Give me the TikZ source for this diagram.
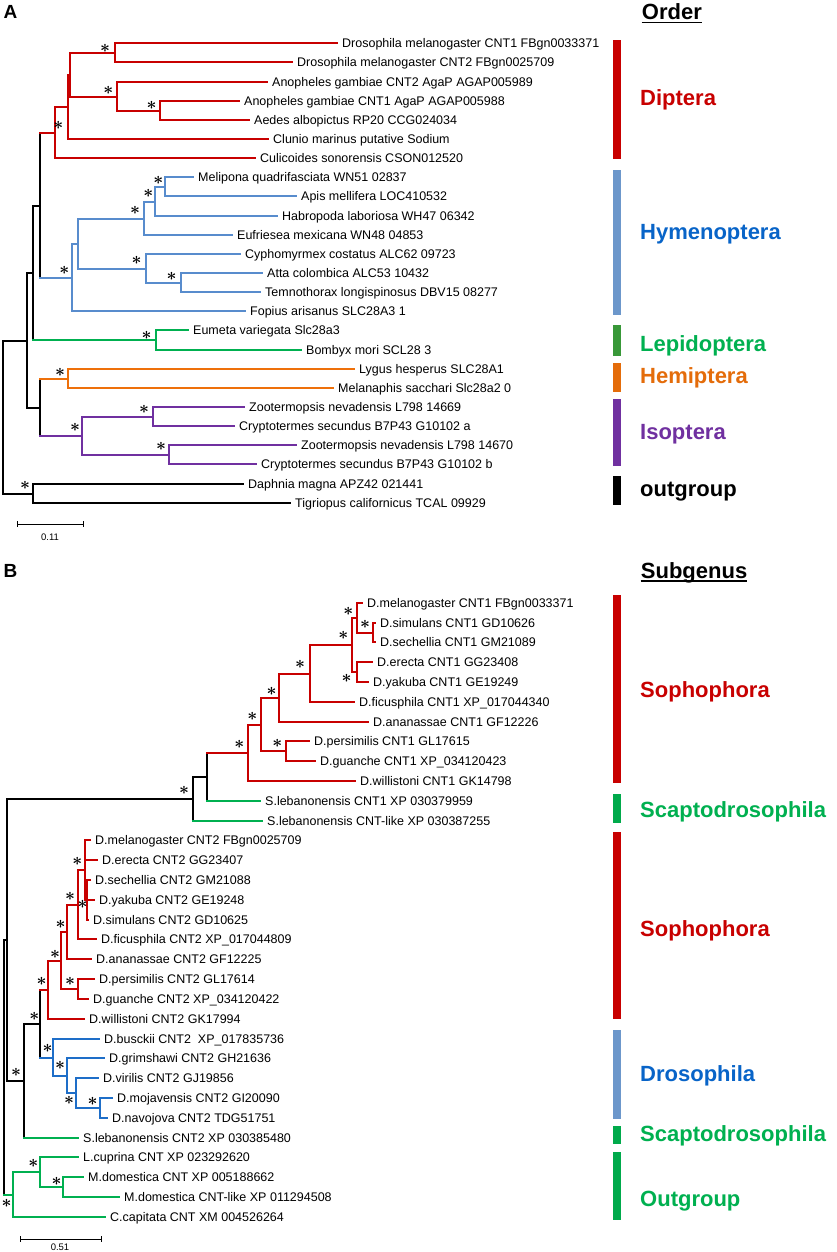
\documentclass[tikz,border=0pt]{standalone}
\usepackage{fontspec}
\setmainfont{Liberation Sans}
\usetikzlibrary{calc}
\definecolor{cRed}{RGB}{200,0,0}
\definecolor{cBlueA}{RGB}{88,140,205}
\definecolor{cBlueB}{RGB}{30,110,200}
\definecolor{cGreen}{RGB}{0,176,80}
\definecolor{cOrange}{RGB}{238,112,10}
\definecolor{cPurple}{RGB}{112,48,160}
\definecolor{barBlue}{RGB}{108,151,203}
\definecolor{barGreenA}{RGB}{56,152,56}
\definecolor{barGreen}{RGB}{0,170,75}
\definecolor{barOrange}{RGB}{228,108,10}
\definecolor{txtBlue}{RGB}{8,100,200}
\definecolor{txtRed}{RGB}{200,0,0}
\newcommand\leafA[4]{\coordinate (#1) at ({round(#3)},{round(43.3+19.14*#2)}); \node[lab] (#1-t) at ([xshift=5pt]#1) {#4};}
\newcommand\leafB[4]{\coordinate (#1) at ({round(#3)},{round(602.7+19.81*#2)}); \node[lab] (#1-t) at ([xshift=5pt]#1) {#4};}
\newcommand\inode[4]{\path let \p1=(#3), \p2=(#4) in coordinate (#1) at ({round(#2)*1pt},{round(0.5*\y1+0.5*\y2)*1pt});}
\newcommand\nd[6]{\draw[#1] (#2 |- #3) -- (#2 |- #5); \draw[#4] (#2 |- #3) -- (#3); \draw[#6] (#2 |- #5) -- (#5);}
\newcommand\hb[3]{\draw[#1] (#2 |- #3) -- (#3);}
\newcommand\st[3]{\node[stn] (#1) at (#2,#3) {$\ast$};}
\begin{document}
\begin{tikzpicture}[x=1pt,y=-1pt,line cap=rect,
  lab/.style={anchor=west,inner sep=0pt,text height=8.95pt,text depth=0pt,font=\fontsize{12.5}{15}\selectfont},
  stn/.style={inner sep=0pt,font=\fontsize{18}{18}\selectfont\boldmath},
  brR/.style={draw=cRed,line width=1.7pt},
  brBa/.style={draw=cBlueA,line width=1.7pt},
  brBb/.style={draw=cBlueB,line width=1.7pt},
  brG/.style={draw=cGreen,line width=1.7pt},
  brO/.style={draw=cOrange,line width=1.7pt},
  brP/.style={draw=cPurple,line width=1.7pt},
  brK/.style={draw=black,line width=1.7pt},
  grp/.style={anchor=base west,inner sep=0pt,font=\fontsize{22}{24}\selectfont\bfseries},
  hdr/.style={anchor=base west,inner sep=0pt,font=\fontsize{22}{24}\selectfont\bfseries},
  pan/.style={anchor=base west,inner sep=0pt,font=\fontsize{19}{20}\selectfont\bfseries},
  sbl/.style={inner sep=0pt,font=\fontsize{9.5}{10}\selectfont}]
\useasboundingbox (0,0) rectangle (837,1252);
\fill[white] (0,0) rectangle (837,1252);
% ---------------- Panel A ----------------
\node[pan] (pA) at (3.3,18.3) {A};
\node[hdr] (ordH) at (641.7,20) {Order};
\draw[line width=1.4pt,line cap=butt] ([yshift=-2.8pt]ordH.base west) -- ([yshift=-2.8pt]ordH.base east);
\leafA{a0}{0}{336.7}{Drosophila melanogaster CNT1 FBgn0033371}
\leafA{a1}{1}{291.7}{Drosophila melanogaster CNT2 FBgn0025709}
\leafA{a2}{2}{266.7}{Anopheles gambiae CNT2 AgaP AGAP005989}
\leafA{a3}{3}{239}{Anopheles gambiae CNT1 AgaP AGAP005988}
\leafA{a4}{4}{249.3}{Aedes albopictus RP20 CCG024034}
\leafA{a5}{5}{267.7}{Clunio marinus putative Sodium}
\leafA{a6}{6}{255}{Culicoides sonorensis CSON012520}
\leafA{a7}{7}{192.7}{Melipona quadrifasciata WN51 02837}
\leafA{a8}{8}{296}{Apis mellifera LOC410532}
\leafA{a9}{9}{276.7}{Habropoda laboriosa WH47 06342}
\leafA{a10}{10}{231.7}{Eufriesea mexicana WN48 04853}
\leafA{a11}{11}{240}{Cyphomyrmex costatus ALC62 09723}
\leafA{a12}{12}{261.7}{Atta colombica ALC53 10432}
\leafA{a13}{13}{260}{Temnothorax longispinosus DBV15 08277}
\leafA{a14}{14}{245}{Fopius arisanus SLC28A3 1}
\leafA{a15}{15}{188.3}{Eumeta variegata Slc28a3}
\leafA{a16}{16}{301}{Bombyx mori SCL28 3}
\leafA{a17}{17}{354.3}{Lygus hesperus SLC28A1}
\leafA{a18}{18}{333.3}{Melanaphis sacchari Slc28a2 0}
\leafA{a19}{19}{244.3}{Zootermopsis nevadensis L798 14669}
\leafA{a20}{20}{234.3}{Cryptotermes secundus B7P43 G10102 a}
\leafA{a21}{21}{296}{Zootermopsis nevadensis L798 14670}
\leafA{a22}{22}{256}{Cryptotermes secundus B7P43 G10102 b}
\leafA{a23}{23}{243.3}{Daphnia magna APZ42 021441}
\leafA{a24}{24}{290}{Tigriopus californicus TCAL 09929}
\inode{aD1}{115}{a0}{a1}
\inode{aAn2}{160}{a3}{a4}
\inode{aAn1}{116.7}{a2}{aAn2}
\inode{aN2}{70}{aD1}{aAn1}
\inode{aN3}{68.3}{aN2}{a5}
\inode{aDip}{55}{aN3}{a6}
\inode{aH4}{165}{a7}{a8}
\inode{aH3}{155}{aH4}{a9}
\inode{aH2}{144}{aH3}{a10}
\inode{aH6}{181}{a12}{a13}
\inode{aH5}{146}{a11}{aH6}
\inode{aH1}{78.3}{aH2}{aH5}
\inode{aH0}{71.7}{aH1}{a14}
\inode{aB1}{39.5}{aDip}{aH0}
\inode{aLep}{156}{a15}{a16}
\inode{aB2}{33.3}{aB1}{aLep}
\inode{aHem}{68.3}{a17}{a18}
\inode{aIa}{153.3}{a19}{a20}
\inode{aIb}{169.3}{a21}{a22}
\inode{aIso}{81.7}{aIa}{aIb}
\inode{aHI}{40}{aHem}{aIso}
\inode{aB3}{26.7}{aB2}{aHI}
\inode{aOut}{33.3}{a23}{a24}
\inode{aRoot}{2.7}{aB3}{aOut}
\nd{brR}{aD1}{a0}{brR}{a1}{brR}
\nd{brR}{aAn2}{a3}{brR}{a4}{brR}
\nd{brR}{aAn1}{a2}{brR}{aAn2}{brR}
\nd{brR}{aN2}{aD1}{brR}{aAn1}{brR}
\nd{brR}{aN3}{aN2}{brR}{a5}{brR}
\nd{brR}{aDip}{aN3}{brR}{a6}{brR}
\nd{brBa}{aH4}{a7}{brBa}{a8}{brBa}
\nd{brBa}{aH3}{aH4}{brBa}{a9}{brBa}
\nd{brBa}{aH2}{aH3}{brBa}{a10}{brBa}
\nd{brBa}{aH6}{a12}{brBa}{a13}{brBa}
\nd{brBa}{aH5}{a11}{brBa}{aH6}{brBa}
\nd{brBa}{aH1}{aH2}{brBa}{aH5}{brBa}
\nd{brBa}{aH0}{aH1}{brBa}{a14}{brBa}
\nd{brK}{aB1}{aDip}{brR}{aH0}{brBa}
\nd{brG}{aLep}{a15}{brG}{a16}{brG}
\nd{brK}{aB2}{aB1}{brK}{aLep}{brG}
\nd{brO}{aHem}{a17}{brO}{a18}{brO}
\nd{brP}{aIa}{a19}{brP}{a20}{brP}
\nd{brP}{aIb}{a21}{brP}{a22}{brP}
\nd{brP}{aIso}{aIa}{brP}{aIb}{brP}
\nd{brK}{aHI}{aHem}{brO}{aIso}{brP}
\nd{brK}{aB3}{aB2}{brK}{aHI}{brK}
\nd{brK}{aOut}{a23}{brK}{a24}{brK}
\nd{brK}{aRoot}{aB3}{brK}{aOut}{brK}
\st{sa1}{105}{48.3}
\st{sa2}{108.3}{90}
\st{sa3}{151.7}{105}
\st{sa4}{58.3}{125}
\st{sa5}{158.3}{180.7}
\st{sa6}{148.3}{193.3}
\st{sa7}{135}{210.7}
\st{sa8}{136.7}{260}
\st{sa9}{171.7}{276}
\st{sa10}{64.3}{270}
\st{sa11}{146.7}{335}
\st{sa12}{60}{372.7}
\st{sa13}{144}{409.3}
\st{sa14}{75}{427.3}
\st{sa15}{161}{446.7}
\st{sa16}{25}{485}
% scale bar A
\coordinate (sbA1) at (17,524);
\coordinate (sbA2) at (83,524);
\draw[line width=1pt,line cap=butt] (sbA1) -- (sbA2);
\draw[line width=1pt,line cap=butt] ([yshift=3pt]sbA1) -- ([yshift=-3pt]sbA1);
\draw[line width=1pt,line cap=butt] ([yshift=3pt]sbA2) -- ([yshift=-3pt]sbA2);
\node[sbl] (sbAt) at (50,537) {0.11};
% bars A
\fill[cRed] (613,40) rectangle (621,159.3);
\fill[barBlue] (613,170) rectangle (621,315);
\fill[barGreenA] (613,325) rectangle (621,355.5);
\fill[barOrange] (613,362.7) rectangle (621,392);
\fill[cPurple] (613,399.3) rectangle (621,466);
\fill[black] (613,476) rectangle (621,505);
\node[grp,text=txtRed] (gDip) at (640,106) {Diptera};
\node[grp,text=txtBlue] (gHym) at (640,239) {Hymenoptera};
\node[grp,text=cGreen] (gLep) at (640,351.7) {Lepidoptera};
\node[grp,text=barOrange] (gHem) at (640,383.3) {Hemiptera};
\node[grp,text=cPurple] (gIso) at (640,439.3) {Isoptera};
\node[grp,text=black] (gOut) at (640,496.5) {outgroup};
% ---------------- Panel B ----------------
\node[pan] (pB) at (3.3,577.3) {B};
\node[hdr] (subH) at (640.7,578) {Subgenus};
\draw[line width=1.4pt,line cap=butt] ([yshift=-2.8pt]subH.base west) -- ([yshift=-2.8pt]subH.base east);
\leafB{b0}{0}{361.7}{D.melanogaster CNT1 FBgn0033371}
\leafB{b1}{1}{375}{D.simulans CNT1 GD10626}
\leafB{b2}{2}{375}{D.sechellia CNT1 GM21089}
\leafB{b3}{3}{372.3}{D.erecta CNT1 GG23408}
\leafB{b4}{4}{368.3}{D.yakuba CNT1 GE19249}
\leafB{b5}{5}{354}{D.ficusphila CNT1 XP\_017044340}
\leafB{b6}{6}{368.3}{D.ananassae CNT1 GF12226}
\leafB{b7}{7}{309}{D.persimilis CNT1 GL17615}
\leafB{b8}{8}{315}{D.guanche CNT1 XP\_034120423}
\leafB{b9}{9}{355}{D.willistoni CNT1 GK14798}
\leafB{b10}{10}{260}{S.lebanonensis CNT1 XP 030379959}
\leafB{b11}{11}{261.7}{S.lebanonensis CNT-like XP 030387255}
\leafB{b12}{12}{90}{D.melanogaster CNT2 FBgn0025709}
\leafB{b13}{13}{96.7}{D.erecta CNT2 GG23407}
\leafB{b14}{14}{90}{D.sechellia CNT2 GM21088}
\leafB{b15}{15}{94.3}{D.yakuba CNT2 GE19248}
\leafB{b16}{16}{88.3}{D.simulans CNT2 GD10625}
\leafB{b17}{17}{96}{D.ficusphila CNT2 XP\_017044809}
\leafB{b18}{18}{91}{D.ananassae CNT2 GF12225}
\leafB{b19}{19}{94}{D.persimilis CNT2 GL17614}
\leafB{b20}{20}{88.3}{D.guanche CNT2 XP\_034120422}
\leafB{b21}{21}{84.3}{D.willistoni CNT2 GK17994}
\leafB{b22}{22}{99}{D.busckii CNT2\ \ XP\_017835736}
\leafB{b23}{23}{104.3}{D.grimshawi CNT2 GH21636}
\leafB{b24}{24}{97.7}{D.virilis CNT2 GJ19856}
\leafB{b25}{25}{112.3}{D.mojavensis CNT2 GI20090}
\leafB{b26}{26}{107.3}{D.navojova CNT2 TDG51751}
\leafB{b27}{27}{77.7}{S.lebanonensis CNT2 XP 030385480}
\leafB{b28}{28}{78.3}{L.cuprina CNT XP 023292620}
\leafB{b29}{29}{83.3}{M.domestica CNT XP 005188662}
\leafB{b30}{30}{119}{M.domestica CNT-like XP 011294508}
\leafB{b31}{31}{105}{C.capitata CNT XM 004526264}
\inode{bSS}{372.7}{b1}{b2}
\inode{bS6}{356.7}{b0}{bSS}
\inode{bEY}{356.7}{b3}{b4}
\inode{bS5}{351.7}{bS6}{bEY}
\inode{bS4}{310}{bS5}{b5}
\inode{bS3}{279.3}{bS4}{b6}
\inode{bPG1}{286}{b7}{b8}
\inode{bS2}{261}{bS3}{bPG1}
\inode{bS1}{248.3}{bS2}{b9}
\inode{bC2}{207.3}{bS1}{b10}
\inode{bC1}{193.3}{bC2}{b11}
\inode{bG1}{86.5}{b14}{b16}
\inode{bG0}{85.4}{b12}{bG1}
\inode{bF}{78.3}{bG0}{b17}
\inode{bA}{66.7}{bF}{b18}
\inode{bPG2}{78.3}{b19}{b20}
\inode{bB}{61}{bA}{bPG2}
\inode{bW}{47.7}{bB}{b21}
\inode{bMN}{100}{b25}{b26}
\inode{bDb3}{76}{b24}{bMN}
\inode{bDb2}{66.7}{b23}{bDb3}
\inode{bDb1}{53.3}{b22}{bDb2}
\inode{bE1}{40}{bW}{bDb1}
\inode{bD1}{24}{bE1}{b27}
\inode{bR2}{6.7}{bC1}{bD1}
\inode{bMM}{63.3}{b29}{b30}
\inode{bLM}{40}{b28}{bMM}
\inode{bO}{12.7}{bLM}{b31}
\inode{bR}{4}{bR2}{bO}
\nd{brR}{bSS}{b1}{brR}{b2}{brR}
\nd{brR}{bS6}{b0}{brR}{bSS}{brR}
\nd{brR}{bEY}{b3}{brR}{b4}{brR}
\nd{brR}{bS5}{bS6}{brR}{bEY}{brR}
\nd{brR}{bS4}{bS5}{brR}{b5}{brR}
\nd{brR}{bS3}{bS4}{brR}{b6}{brR}
\nd{brR}{bPG1}{b7}{brR}{b8}{brR}
\nd{brR}{bS2}{bS3}{brR}{bPG1}{brR}
\nd{brR}{bS1}{bS2}{brR}{b9}{brR}
\nd{brK}{bC2}{bS1}{brR}{b10}{brG}
\nd{brK}{bC1}{bC2}{brK}{b11}{brG}
\nd{brR}{bG1}{b14}{brR}{b16}{brR}
\hb{brR}{bG1}{b15}
\nd{brR}{bG0}{b12}{brR}{bG1}{brR}
\hb{brR}{bG0}{b13}
\nd{brR}{bF}{bG0}{brR}{b17}{brR}
\nd{brR}{bA}{bF}{brR}{b18}{brR}
\nd{brR}{bPG2}{b19}{brR}{b20}{brR}
\nd{brR}{bB}{bA}{brR}{bPG2}{brR}
\nd{brR}{bW}{bB}{brR}{b21}{brR}
\nd{brBb}{bMN}{b25}{brBb}{b26}{brBb}
\nd{brBb}{bDb3}{b24}{brBb}{bMN}{brBb}
\nd{brBb}{bDb2}{b23}{brBb}{bDb3}{brBb}
\nd{brBb}{bDb1}{b22}{brBb}{bDb2}{brBb}
\nd{brK}{bE1}{bW}{brR}{bDb1}{brBb}
\nd{brK}{bD1}{bE1}{brK}{b27}{brG}
\nd{brK}{bR2}{bC1}{brK}{bD1}{brK}
\nd{brG}{bMM}{b29}{brG}{b30}{brG}
\nd{brG}{bLM}{b28}{brG}{bMM}{brG}
\nd{brG}{bO}{bLM}{brG}{b31}{brG}
\nd{brK}{bR}{bR2}{brK}{bO}{brG}
\st{sb1}{348.3}{611.7}
\st{sb2}{365}{624}
\st{sb3}{343.3}{635}
\st{sb4}{346.7}{678.3}
\st{sb5}{300}{664.3}
\st{sb6}{271.7}{691}
\st{sb7}{277.3}{743.3}
\st{sb8}{252.3}{716}
\st{sb9}{239.3}{744}
\st{sb10}{184}{790}
\st{sb11}{77.3}{861.7}
\st{sb12}{82.7}{904}
\st{sb13}{70}{896.7}
\st{sb14}{60.7}{924}
\st{sb15}{55}{954}
\st{sb16}{70}{981.7}
\st{sb17}{41.7}{981.7}
\st{sb18}{34.3}{1016}
\st{sb19}{47.7}{1048}
\st{sb20}{60}{1065}
\st{sb21}{69}{1100}
\st{sb22}{92.7}{1101}
\st{sb23}{16}{1072}
\st{sb24}{33.3}{1163.3}
\st{sb25}{56.7}{1181.7}
\st{sb26}{6.7}{1203.3}
% scale bar B
\coordinate (sbB1) at (20.7,1239);
\coordinate (sbB2) at (101.7,1239);
\draw[line width=1pt,line cap=butt] (sbB1) -- (sbB2);
\draw[line width=1pt,line cap=butt] ([yshift=3pt]sbB1) -- ([yshift=-3pt]sbB1);
\draw[line width=1pt,line cap=butt] ([yshift=3pt]sbB2) -- ([yshift=-3pt]sbB2);
\node[sbl] (sbBt) at (60,1247.3) {0.51};
% bars B
\fill[cRed] (613,595) rectangle (621,782.7);
\fill[barGreen] (613,794) rectangle (621,823);
\fill[cRed] (613,831.5) rectangle (621,1019);
\fill[barBlue] (613,1029.5) rectangle (621,1118.7);
\fill[barGreen] (613,1126) rectangle (621,1144);
\fill[barGreen] (613,1152) rectangle (621,1220);
\node[grp,text=txtRed] (gSo1) at (640,697.5) {Sophophora};
\node[grp,text=cGreen] (gSc1) at (640,817) {Scaptodrosophila};
\node[grp,text=txtRed] (gSo2) at (640,936) {Sophophora};
\node[grp,text=txtBlue] (gDro) at (640,1081) {Drosophila};
\node[grp,text=cGreen] (gSc2) at (640,1141.5) {Scaptodrosophila};
\node[grp,text=cGreen] (gOg) at (640,1206) {Outgroup};
\end{tikzpicture}
\end{document}
